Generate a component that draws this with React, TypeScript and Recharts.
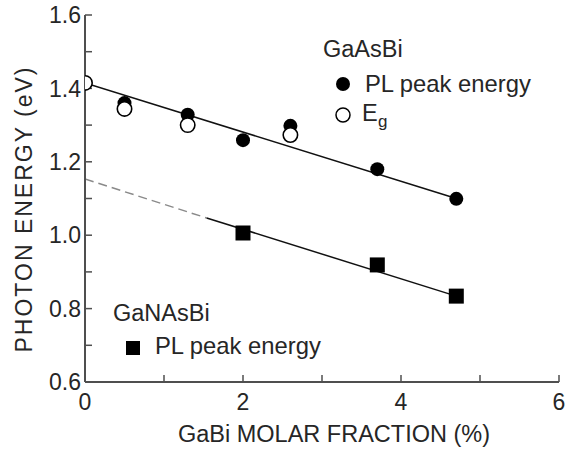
import {
  ComposedChart,
  Customized,
  Line,
  Scatter,
  XAxis,
  YAxis,
} from "recharts";

// GaAsBi: PL peak energy (filled circles) and band gap Eg (open circles)
const asbiPlX = [0.5, 1.3, 2.0, 2.6, 3.7, 4.7];
const asbiPlY = [1.36, 1.328, 1.259, 1.298, 1.18, 1.099];
const asbiEgX = [0, 0.5, 1.3, 2.6];
const asbiEgY = [1.415, 1.344, 1.3, 1.273];

// GaNAsBi: PL peak energy (squares)
const nasbiPlX = [2.0, 3.7, 4.7];
const nasbiPlY = [1.006, 0.919, 0.834];

// fitted lines (end points)
const asbiFitX = [0, 4.7];
const asbiFitY = [1.415, 1.1];
const nasbiFitX = [1.54, 4.7];
const nasbiFitY = [1.047, 0.834];
const nasbiExtrapX = [0, 1.54];
const nasbiExtrapY = [1.153, 1.047];

const xTicks = [0, 1, 2, 3, 4, 5, 6];
const yTicks = [0.6, 0.7, 0.8, 0.9, 1.0, 1.1, 1.2, 1.3, 1.4, 1.5, 1.6];

const toPoints = (xs: number[], ys: number[]) => xs.map((x, i) => ({ x, y: ys[i] }));

const FONT = "'Liberation Sans', Arial, Helvetica, sans-serif";
const FRAME = "#4f4f4f";
const TEXT = "#262626";

const FilledDot = (p: any) => <circle cx={p.cx} cy={p.cy} r={7} fill="#000" />;
const OpenDot = (p: any) => (
  <circle cx={p.cx} cy={p.cy} r={7.2} fill="#fff" stroke="#000" strokeWidth={1.6} />
);
const SquareDot = (p: any) => (
  <rect x={p.cx - 7.5} y={p.cy - 7.5} width={15} height={15} fill="#000" />
);

const Annotations = () => (
  <g fontFamily={FONT} fill={TEXT}>
    <text x={323} y={57} fontSize={23.5}>GaAsBi</text>
    <circle cx={343} cy={84} r={7} fill="#000" />
    <text x={365} y={92} fontSize={23.8}>PL peak energy</text>
    <circle cx={343} cy={115} r={7} fill="#fff" stroke="#000" strokeWidth={1.5} />
    <text x={362} y={121} fontSize={23.5}>E</text>
    <text x={378} y={127} fontSize={17}>g</text>

    <text x={113} y={321} fontSize={23.5}>GaNAsBi</text>
    <rect x={126} y={341} width={14} height={14} fill="#000" />
    <text x={155} y={354} fontSize={23.8}>PL peak energy</text>

    <text
      x={32}
      y={209}
      fontSize={23}
      letterSpacing={2}
      textAnchor="middle"
      transform="rotate(-90 32 209)"
    >
      PHOTON ENERGY (eV)
    </text>
    <text x={334} y={442} fontSize={23.5} textAnchor="middle">
      GaBi MOLAR FRACTION (%)
    </text>
  </g>
);

const yFmt = (v: number) => (Math.round(v * 10) % 2 === 0 ? v.toFixed(1) : "");
const xFmt = (v: number) => (v % 2 === 0 ? String(v) : "");

export default function App() {
  const tickStyle = { fontSize: 23, fontFamily: FONT, fill: TEXT };
  return (
    <div style={{ position: "absolute", left: 0, top: 0, background: "#fff" }}>
      <ComposedChart
        width={568}
        height={450}
        margin={{ top: 15, right: 9, bottom: 8, left: 25 }}
      >
        <XAxis
          type="number"
          dataKey="x"
          domain={[0, 6]}
          ticks={xTicks}
          tickFormatter={xFmt}
          interval={0}
          height={60}
          tickSize={-7}
          tickMargin={19}
          tick={tickStyle}
          axisLine={{ stroke: FRAME, strokeWidth: 2 }}
          tickLine={{ stroke: FRAME, strokeWidth: 1.5 }}
          allowDataOverflow
        />
        <XAxis
          xAxisId="top"
          orientation="top"
          type="number"
          domain={[0, 6]}
          ticks={xTicks}
          interval={0}
          height={0}
          tickSize={-7}
          tick={false}
          axisLine={{ stroke: FRAME, strokeWidth: 2 }}
          tickLine={{ stroke: FRAME, strokeWidth: 1.5 }}
          allowDataOverflow
        />
        <YAxis
          type="number"
          dataKey="y"
          domain={[0.6, 1.6]}
          ticks={yTicks}
          tickFormatter={yFmt}
          interval={0}
          width={60}
          tickSize={-7}
          tickMargin={11}
          tick={tickStyle}
          axisLine={{ stroke: FRAME, strokeWidth: 2 }}
          tickLine={{ stroke: FRAME, strokeWidth: 1.5 }}
          allowDataOverflow
        />
        <YAxis
          yAxisId="right"
          orientation="right"
          type="number"
          domain={[0.6, 1.6]}
          ticks={yTicks}
          interval={0}
          width={0}
          tickSize={-7}
          tick={false}
          axisLine={{ stroke: FRAME, strokeWidth: 2 }}
          tickLine={{ stroke: FRAME, strokeWidth: 1.5 }}
          allowDataOverflow
        />

        <Line
          data={toPoints(asbiFitX, asbiFitY)}
          dataKey="y"
          type="linear"
          stroke="#111"
          strokeWidth={1.6}
          dot={false}
          activeDot={false}
          isAnimationActive={false}
        />
        <Line
          data={toPoints(nasbiExtrapX, nasbiExtrapY)}
          dataKey="y"
          type="linear"
          stroke="#8a8a8a"
          strokeWidth={1.5}
          strokeDasharray="9 5"
          dot={false}
          activeDot={false}
          isAnimationActive={false}
        />
        <Line
          data={toPoints(nasbiFitX, nasbiFitY)}
          dataKey="y"
          type="linear"
          stroke="#111"
          strokeWidth={1.5}
          dot={false}
          activeDot={false}
          isAnimationActive={false}
        />

        <Scatter
          data={toPoints(asbiPlX, asbiPlY)}
          dataKey="y"
          shape={FilledDot}
          isAnimationActive={false}
        />
        <Scatter
          data={toPoints(asbiEgX, asbiEgY)}
          dataKey="y"
          shape={OpenDot}
          isAnimationActive={false}
        />
        <Scatter
          data={toPoints(nasbiPlX, nasbiPlY)}
          dataKey="y"
          shape={SquareDot}
          isAnimationActive={false}
        />

        <Customized component={Annotations} />
      </ComposedChart>
    </div>
  );
}
